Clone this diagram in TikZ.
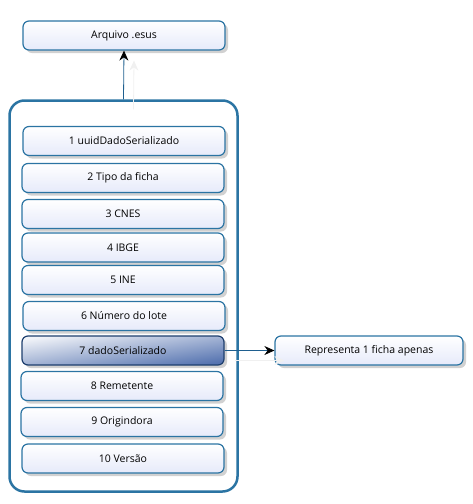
\documentclass[tikz,border=0pt]{standalone}
\usepackage{fontspec}
\setmainfont{Open Sans}
\usetikzlibrary{shadows,arrows.meta}
\definecolor{boxline}{HTML}{2B74A3}
\definecolor{boxfill}{HTML}{E6EAFA}
\definecolor{selline}{HTML}{1E3F6E}
\definecolor{selfill}{HTML}{5573B0}
\definecolor{wireline}{HTML}{1F5F8F}
\tikzset{
	campo/.style={draw=boxline,line width=1.2pt,rounded corners=6pt,top color=white,bottom color=boxfill,
		minimum width=202pt,minimum height=29pt,inner sep=0pt,font=\fontsize{10.5}{12}\selectfont,
		drop shadow={shadow xshift=3pt,shadow yshift=-3pt,fill=black,opacity=0.18}},
	selcampo/.style={campo,draw=selline,top color=white!92!selfill,bottom color=selfill,shading angle=8},
	lote/.style={draw=boxline,line width=2.5pt,rounded corners=15pt,fill=white,
		minimum width=228pt,minimum height=391pt,inner sep=0pt},
	seta/.style={draw=wireline,line width=0.8pt,-{Stealth[black,length=10pt,width=9pt]},
		preaction={draw=gray!12,line width=0.8pt,-{Stealth[gray!12,length=10pt,width=9pt]},transform canvas={shift={(10pt,-10pt)}}}}
}
\begin{document}
\begin{tikzpicture}[x=1pt,y=1pt]
	\useasboundingbox (0,0) rectangle (472,-504);
	\node [lote] (caixa) at (123.5,-296) {};

	\node [campo] (topo) at (124,-35.5) {Arquivo .esus};

	\node [campo] (c1) at (124,-141) {1 uuidDadoSerializado};
	\node [campo] (c2) at (123,-178) {2 Tipo da ficha};
	\node [campo] (c3) at (123,-214) {3 CNES};
	\node [campo] (c4) at (123,-247.5) {4 IBGE};
	\node [campo] (c5) at (123,-280) {5 INE};
	\node [campo] (c6) at (124,-316) {6 Número do lote};
	\node [selcampo] (c7) at (123,-350.5) {7 dadoSerializado};
	\node [campo] (c8) at (122,-386) {8 Remetente};
	\node [campo] (c9) at (122,-422) {9 Origindora};
	\node [campo] (c10) at (123,-458.5) {10 Versão};

	\node [campo,minimum width=188pt] (ficha) at (369,-350.5) {Representa 1 ficha apenas};

	\draw [seta] (caixa.north) -- (topo.south);
	\draw [seta] (c7.east) -- (ficha.west);
\end{tikzpicture}
\end{document}
